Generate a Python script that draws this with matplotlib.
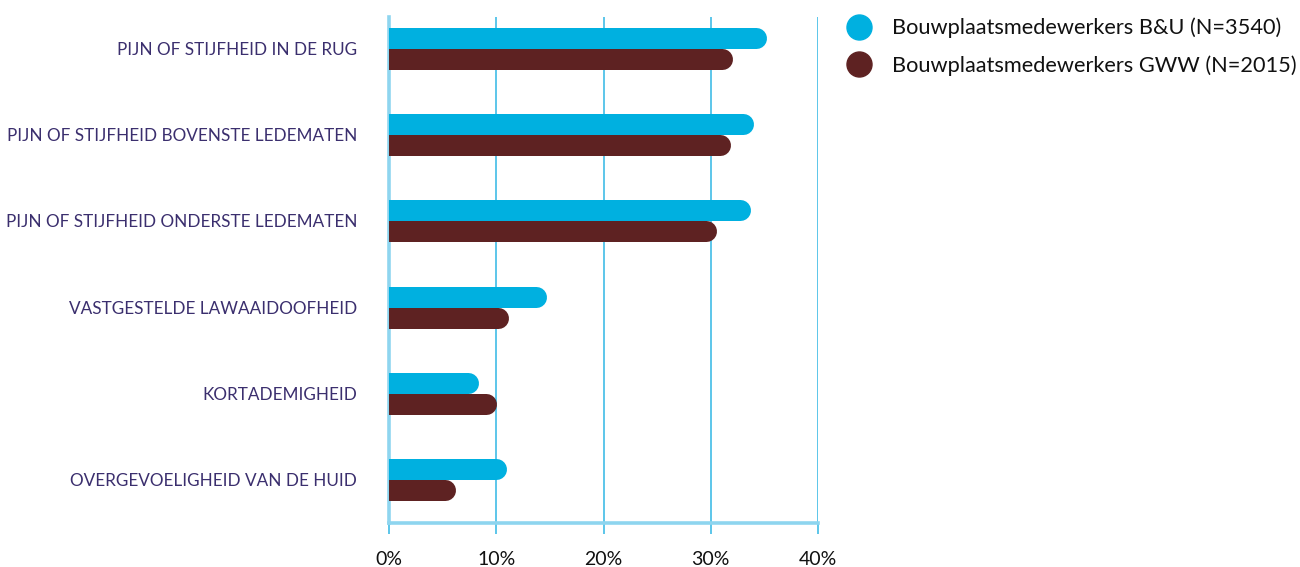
import matplotlib.pyplot as plt
from matplotlib.lines import Line2D

plt.rcParams['font.family'] = ['Lato', 'DejaVu Sans']

categories = [
    "PIJN OF STIJFHEID IN DE RUG",
    "PIJN OF STIJFHEID BOVENSTE LEDEMATEN",
    "PIJN OF STIJFHEID ONDERSTE LEDEMATEN",
    "VASTGESTELDE LAWAAIDOOFHEID",
    "KORTADEMIGHEID",
    "OVERGEVOELIGHEID VAN DE HUID",
]
bu = [35.2, 34.0, 33.7, 14.7, 8.3, 11.0]
gww = [32.0, 31.8, 30.5, 11.1, 10.0, 6.2]
series_labels = ["Bouwplaatsmedewerkers B&U (N=3540)",
                 "Bouwplaatsmedewerkers GWW (N=2015)"]
xticks = [0, 10, 20, 30, 40]

blue = "#00b0e0"
brown = "#5e2222"
grid_c = "#5cc6ea"
label_c = "#3b2f6e"

W, H, DPI = 13.0, 5.67, 100
fig = plt.figure(figsize=(W, H), dpi=DPI)
ax = fig.add_axes([389 / 1300, 1 - 523 / 567, 429 / 1300, 506 / 567])

xmax = 40
ax.set_xlim(0, xmax)
ax.set_ylim(5.5, -0.36)

bar_px = 21
lw_pt = bar_px * 72 / DPI
# cap radius in data units so the rounded end stops at the value
r = (bar_px / 2) * xmax / 429
off = 0.122

for i, (a, b) in enumerate(zip(bu, gww)):
    ax.plot([-2, a - r], [i - off, i - off], color=blue, lw=lw_pt,
            solid_capstyle='round', zorder=3)
    ax.plot([-2, b - r], [i + off, i + off], color=brown, lw=lw_pt,
            solid_capstyle='round', zorder=3)

for x in xticks[1:]:
    ax.axvline(x, color=grid_c, lw=1.4, zorder=1)

for s in ['top', 'right']:
    ax.spines[s].set_visible(False)
ax.spines['left'].set_color("#8ed5ef")
ax.spines['left'].set_linewidth(2.6)
ax.spines['bottom'].set_color("#8ed5ef")
ax.spines['bottom'].set_linewidth(2.6)

ax.set_xticks(xticks)
ax.set_xticklabels([f"{x}%" for x in xticks], fontsize=14, color="#111111")
ax.tick_params(axis='x', length=8, width=1.4, color=grid_c, pad=12)
ax.set_yticks(range(len(categories)))
ax.set_yticklabels(categories, fontsize=12.3, color=label_c)
ax.tick_params(axis='y', length=0, pad=23)

handles = [Line2D([], [], ls='none', marker='o', ms=18, color=c)
           for c in (blue, brown)]
fig.legend(handles, series_labels, loc='upper left',
           bbox_to_anchor=(818 / 1300, 1 + 2 / 567), frameon=False,
           fontsize=15.7, labelspacing=0.78, handletextpad=0.5,
           labelcolor="#111111")

fig.savefig("out.png", dpi=DPI)
